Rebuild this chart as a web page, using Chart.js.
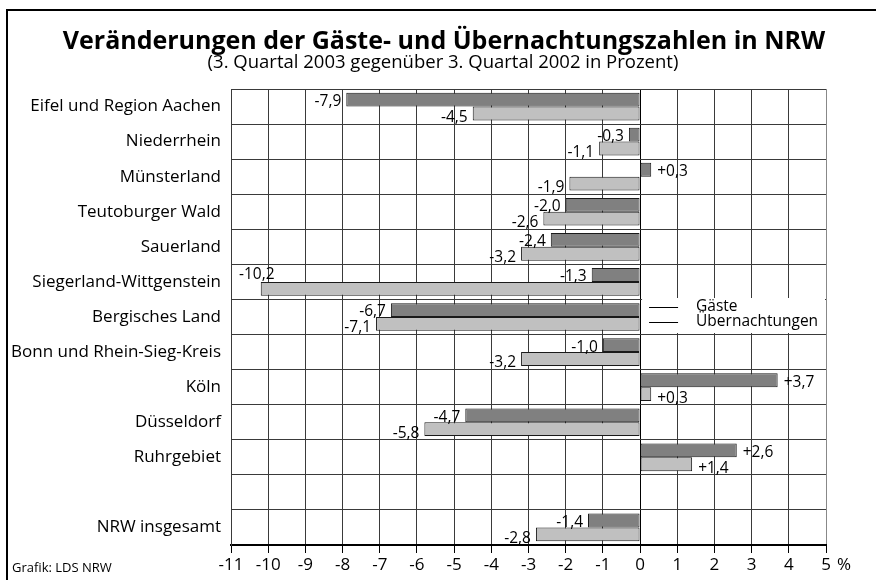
<!DOCTYPE html>
<html>
<head>
<meta charset="utf-8">
<script src="https://cdn.jsdelivr.net/npm/chart.js@4.4.1/dist/chart.umd.min.js"></script>
<style>
  html, body { margin: 0; padding: 0; background: #fff; }
  #wrap { width: 876px; height: 580px; position: relative; }
</style>
</head>
<body>
<div id="wrap"><canvas id="c" width="876" height="580"></canvas></div>
<script>
const categories = [
  'Eifel und Region Aachen', 'Niederrhein', 'Münsterland', 'Teutoburger Wald',
  'Sauerland', 'Siegerland-Wittgenstein', 'Bergisches Land', 'Bonn und Rhein-Sieg-Kreis',
  'Köln', 'Düsseldorf', 'Ruhrgebiet', '', 'NRW insgesamt'
];
const gaeste = [-7.9, -0.3, 0.3, -2.0, -2.4, -1.3, -6.7, -1.0, 3.7, -4.7, 2.6, null, -1.4];
const uebernachtungen = [-4.5, -1.1, -1.9, -2.6, -3.2, -10.2, -7.1, -3.2, 0.3, -5.8, 1.4, null, -2.8];
const seriesNames = ['Gäste', 'Übernachtungen'];
const xMin = -11, xMax = 5;
const titleText = 'Veränderungen der Gäste- und Übernachtungszahlen in NRW';
const subtitleText = '(3. Quartal 2003 gegenüber 3. Quartal 2002 in Prozent)';
const sourceText = 'Grafik: LDS NRW';
const unitText = '%';

const FONT = '"Open Sans", "Noto Sans", sans-serif';

function fmt(v) {
  const s = Math.abs(v).toFixed(1).replace('.', ',');
  return (v > 0 ? '+' : '-') + s;
}

const decoPlugin = {
  id: 'deco',
  afterDraw(chart) {
    const ctx = chart.ctx;
    const area = chart.chartArea;
    const xs = chart.scales.x;
    ctx.save();
    // frame
    ctx.strokeStyle = '#000';
    ctx.lineWidth = 2;
    ctx.beginPath();
    ctx.moveTo(7, 590);
    ctx.lineTo(7, 10);
    ctx.lineTo(880, 10);
    ctx.stroke();

    // title
    ctx.fillStyle = '#000';
    ctx.textAlign = 'center';
    ctx.textBaseline = 'middle';
    ctx.font = 'bold 25px ' + FONT;
    ctx.fillText(titleText, 444, 42);
    ctx.font = '18.5px ' + FONT;
    ctx.fillText(subtitleText, 443, 63);

    // source & unit
    ctx.textAlign = 'left';
    ctx.font = '13px ' + FONT;
    ctx.fillText(sourceText, 12, 568);
    ctx.font = '17px ' + FONT;
    ctx.fillText(unitText, area.right + 11, 565);

    // value labels
    ctx.font = '15.5px ' + FONT;
    chart.data.datasets.forEach((ds, di) => {
      const meta = chart.getDatasetMeta(di);
      meta.data.forEach((bar, i) => {
        const v = ds.data[i];
        if (v === null || v === undefined) return;
        const p = bar.getProps(['x', 'y', 'base', 'height'], true);
        const txt = fmt(v);
        const w = ctx.measureText(txt).width;
        ctx.textBaseline = 'middle';
        let ty = p.y + (di === 0 ? 2 : 4);
        if (v < 0) {
          let tx = p.x - 5;
          if (tx - w < area.left + 2) {
            ctx.textAlign = 'left';
            ctx.fillText(txt, area.left + 8, p.y - p.height / 2 - 7);
          } else {
            ctx.textAlign = 'right';
            ctx.fillText(txt, tx, ty);
          }
        } else {
          ctx.textAlign = 'left';
          ctx.fillText(txt, p.x + 6, ty);
        }
      });
    });

    // legend
    const lx = xs.getPixelForValue(0) + 2;
    const ly = 298;
    ctx.fillStyle = '#fff';
    ctx.fillRect(lx, ly, area.right - lx - 1, 35);
    ctx.strokeStyle = '#000';
    ctx.lineWidth = 1;
    const rows = [307.5, 322.5];
    ctx.font = '15.5px ' + FONT;
    ctx.fillStyle = '#000';
    ctx.textAlign = 'left';
    ctx.textBaseline = 'middle';
    seriesNames.forEach((n, k) => {
      ctx.beginPath();
      ctx.moveTo(lx + 7, rows[k]);
      ctx.lineTo(lx + 36, rows[k]);
      ctx.stroke();
      ctx.fillText(n, lx + 54, rows[k] - 1);
    });
    ctx.restore();
  }
};

new Chart(document.getElementById('c'), {
  type: 'bar',
  data: {
    labels: categories,
    datasets: [
      {
        label: seriesNames[0],
        data: gaeste,
        backgroundColor: '#808080',
        borderColor: '#1a1a1a',
        borderWidth: 1,
        borderSkipped: false,
        categoryPercentage: 0.79,
        barPercentage: 1.0
      },
      {
        label: seriesNames[1],
        data: uebernachtungen,
        backgroundColor: '#c0c0c0',
        borderColor: '#1a1a1a',
        borderWidth: 1,
        borderSkipped: false,
        categoryPercentage: 0.79,
        barPercentage: 1.0
      }
    ]
  },
  options: {
    indexAxis: 'y',
    responsive: false,
    animation: false,
    devicePixelRatio: 1,
    layout: { padding: { top: 89, right: 50, left: 0, bottom: 0 } },
    plugins: {
      legend: { display: false },
      title: { display: false },
      tooltip: { enabled: false }
    },
    scales: {
      x: {
        type: 'linear',
        min: xMin,
        max: xMax,
        afterFit(scale) { scale.height = 35; },
        ticks: {
          stepSize: 1,
          color: '#000',
          font: { family: FONT, size: 17 },
          padding: 2,
          callback: (v) => String(v)
        },
        grid: {
          color: (c) => c.tick && c.tick.value === 0 ? '#000' : (c.tick && c.tick.value === xMax ? '#888' : '#3a3a3a'),
          lineWidth: 1,
          tickLength: 8,
          tickColor: '#000'
        },
        border: { color: '#000', width: 2 }
      },
      y: {
        type: 'category',
        afterFit(scale) { scale.width = 231; },
        ticks: {
          color: '#000',
          font: { family: FONT, size: 17 },
          padding: 10,
          autoSkip: false
        },
        grid: {
          offset: true,
          color: '#3a3a3a',
          lineWidth: 1,
          drawTicks: false
        },
        border: { color: '#3a3a3a', width: 1 }
      }
    }
  },
  plugins: [decoPlugin]
});
</script>
</body>
</html>
